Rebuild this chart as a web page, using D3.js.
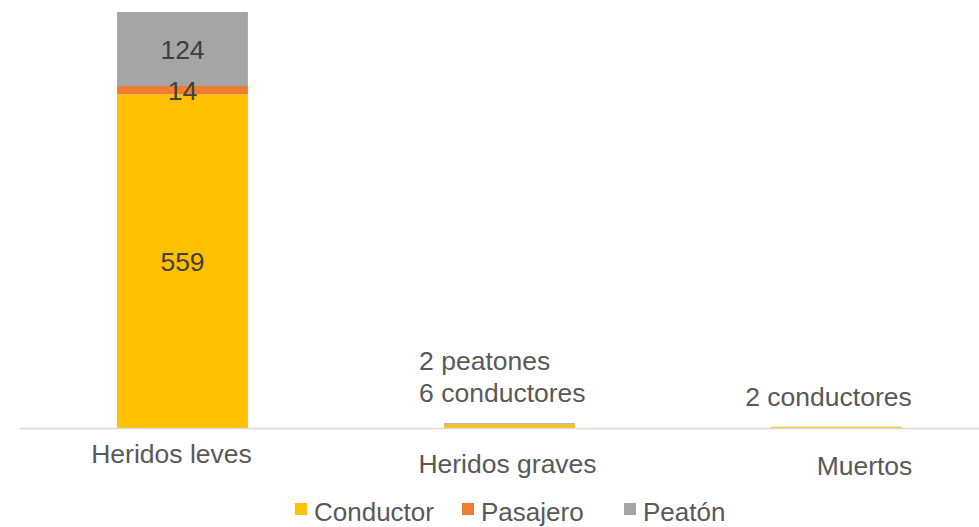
<!DOCTYPE html>
<html>
<head>
<meta charset="utf-8">
<script src="https://cdn.jsdelivr.net/npm/d3@7"></script>
<style>
  body { margin: 0; background: #fff; }
  text { font-family: "Liberation Sans", Arial, sans-serif; }
</style>
</head>
<body>
<div id="chart"></div>
<script>
  // data
  const categories = ["Heridos leves", "Heridos graves", "Muertos"];
  const conductor = [559, 6, 2];
  const pasajero = [14, 0, 0];
  const peaton = [124, 2, 0];
  const seriesNames = ["Conductor", "Pasajero", "Peatón"];
  const notes = [null, ["2 peatones", "6 conductores"], ["2 conductores"]];

  const colors = ["#ffc000", "#ed7d31", "#a5a5a5"];
  const width = 979, height = 527;
  const baseY = 428, topY = 12;
  const fs = 26.5;

  const svg = d3.select("#chart").append("svg")
    .attr("width", width)
    .attr("height", height);

  const rows = categories.map((c, i) => ({
    cat: c, Conductor: conductor[i], Pasajero: pasajero[i], "Peatón": peaton[i]
  }));
  const stacked = d3.stack().keys(seriesNames)(rows);

  const x = d3.scaleBand()
    .domain(categories)
    .range([19, 1000])
    .paddingInner(0.6)
    .paddingOuter(0.3);

  const y = d3.scaleLinear()
    .domain([0, d3.max(stacked[stacked.length - 1], d => d[1])])
    .range([baseY, topY]);

  // bars
  svg.selectAll("g.series")
    .data(stacked)
    .join("g")
    .attr("class", "series")
    .attr("fill", (d, i) => colors[i])
    .selectAll("rect")
    .data(d => d)
    .join("rect")
    .attr("x", d => x(d.data.cat))
    .attr("y", d => y(d[1]))
    .attr("width", x.bandwidth())
    .attr("height", d => y(d[0]) - y(d[1]));

  // baseline
  svg.append("line")
    .attr("x1", 20).attr("x2", width)
    .attr("y1", baseY + 0.5).attr("y2", baseY + 0.5)
    .attr("stroke", "#d9d9d9")
    .attr("stroke-width", 1.5);

  // value labels inside the first bar
  stacked.forEach((s, si) => {
    const d = s[0];
    svg.append("text")
      .attr("x", x(categories[0]) + x.bandwidth() / 2)
      .attr("y", (y(d[0]) + y(d[1])) / 2 + 10)
      .attr("text-anchor", "middle")
      .attr("font-size", fs)
      .attr("fill", "#404040")
      .text(d[1] - d[0]);
  });

  // notes on small bars
  const noteLayout = [null, { dx: -25, anchor: "start", y: [370, 402] }, { dx: -8, anchor: "middle", y: [406] }];
  notes.forEach((lines, i) => {
    if (!lines) return;
    const L = noteLayout[i];
    const base = L.anchor === "start" ? x(categories[i]) : x(categories[i]) + x.bandwidth() / 2;
    lines.forEach((t, j) => {
      svg.append("text")
        .attr("x", base + L.dx)
        .attr("y", L.y[j])
        .attr("text-anchor", L.anchor)
        .attr("font-size", fs)
        .attr("fill", "#595959")
        .text(t);
    });
  });

  // category labels (staggered like the original)
  const catOffset = [{ dx: -11, y: 463 }, { dx: -2, y: 473 }, { dx: 28, y: 475 }];
  categories.forEach((c, i) => {
    svg.append("text")
      .attr("x", x(c) + x.bandwidth() / 2 + catOffset[i].dx)
      .attr("y", catOffset[i].y)
      .attr("text-anchor", "middle")
      .attr("font-size", fs)
      .attr("fill", "#595959")
      .text(c);
  });

  // legend
  const legendX = [295, 462, 624];
  const legend = svg.append("g");
  seriesNames.forEach((n, i) => {
    legend.append("rect")
      .attr("x", legendX[i]).attr("y", 503)
      .attr("width", 12).attr("height", 12)
      .attr("fill", colors[i]);
    legend.append("text")
      .attr("x", legendX[i] + 19).attr("y", 521)
      .attr("font-size", 26)
      .attr("fill", "#595959")
      .text(n);
  });
</script>
</body>
</html>
